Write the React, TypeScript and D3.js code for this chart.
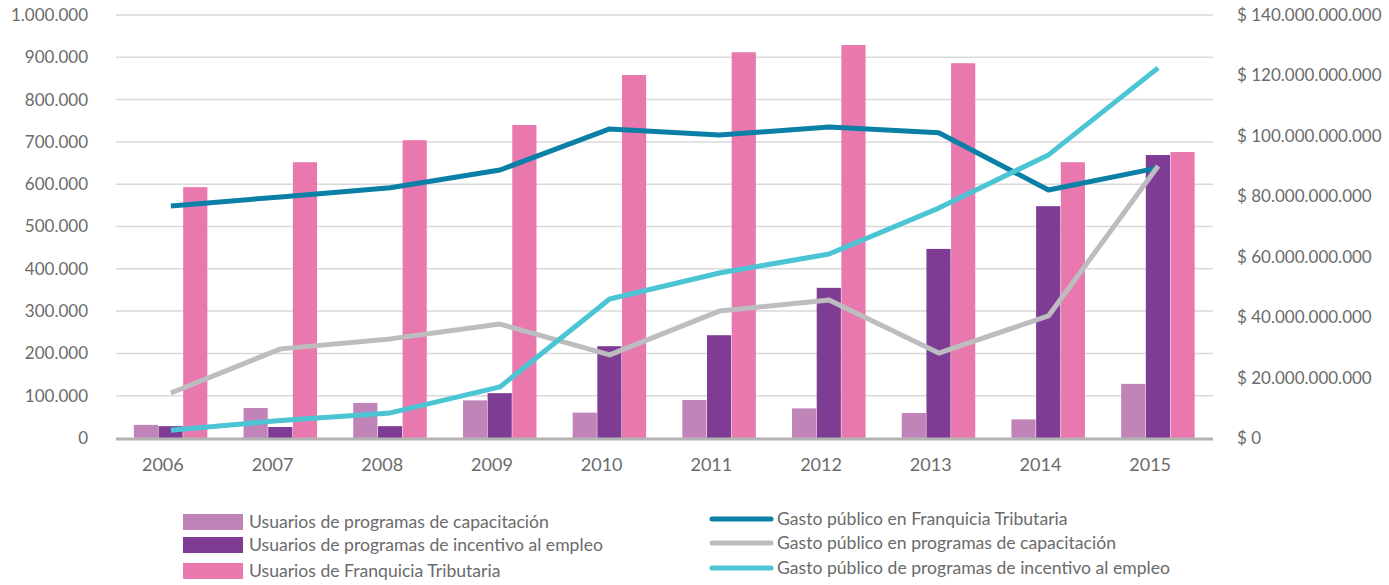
import React from 'react';
import * as d3 from 'd3';

const years = ['2006', '2007', '2008', '2009', '2010', '2011', '2012', '2013', '2014', '2015'];

// usuarios (eje izquierdo)
const usuariosCapacitacion = [31000, 71000, 83000, 89000, 60000, 90000, 70000, 59000, 44000, 128000];
const usuariosIncentivo = [28000, 26000, 28000, 106000, 217000, 243000, 355000, 447000, 548000, 669000];
const usuariosFranquicia = [593000, 652000, 704000, 740000, 858000, 912000, 929000, 886000, 652000, 676000];

// gasto público (eje derecho)
const gastoFranquicia = [76.8e9, 79.8e9, 82.8e9, 88.7e9, 102.3e9, 100.3e9, 102.9e9, 101e9, 82.1e9, 89.4e9];
const gastoCapacitacion = [14.9e9, 29.5e9, 32.8e9, 37.7e9, 27.5e9, 42e9, 45.7e9, 28.1e9, 40.4e9, 90e9];
const gastoIncentivo = [2.6e9, 5.8e9, 8.3e9, 16.9e9, 46e9, 54.6e9, 60.9e9, 76.1e9, 93.7e9, 122.5e9];

const leftTicks = [0, 100000, 200000, 300000, 400000, 500000, 600000, 700000, 800000, 900000, 1000000];
const rightTicks = [0, 20e9, 40e9, 60e9, 80e9, 100e9, 120e9, 140e9];

const barSeries = [
  { name: 'Usuarios de programas de capacitación', color: '#c084b8', values: usuariosCapacitacion },
  { name: 'Usuarios de programas de incentivo al empleo', color: '#7f3c95', values: usuariosIncentivo },
  { name: 'Usuarios de Franquicia Tributaria', color: '#e878ad', values: usuariosFranquicia },
];

const lineSeries = [
  { name: 'Gasto público en Franquicia Tributaria', color: '#0a80a6', values: gastoFranquicia },
  { name: 'Gasto público en programas de capacitación', color: '#bdbdc0', values: gastoCapacitacion },
  { name: 'Gasto público de programas de incentivo al empleo', color: '#4bc4d3', values: gastoIncentivo },
];

const fmt = (v: number) => d3.format(',')(v).replace(/,/g, '.');

const FONT = 'Lato, sans-serif';
const TEXT = '#6b6b6b';

const App: React.FC = () => {
  const width = 1389;
  const height = 585;
  const plotLeft = 116;
  const plotRight = 1213;
  const top = 15;
  const bottom = 438;

  const x0 = d3.scaleBand<string>().domain(years).range([plotLeft, plotRight]);
  const groupW = 74;
  const x1 = d3.scaleBand<number>().domain([0, 1, 2]).range([0, groupW]);
  const groupOffset = (x0.bandwidth() - groupW) / 2;

  const yLeft = d3.scaleLinear().domain([0, 1000000]).range([bottom, top]);
  const yRight = d3.scaleLinear().domain([0, 140e9]).range([bottom, top]);

  const cx = (y: string) => (x0(y) as number) + x0.bandwidth() / 2;

  return (
    <svg width={width} height={height} style={{ display: 'block', position: 'absolute', left: 0, top: 0 }}>
      <rect width={width} height={height} fill="#fff" />
      {/* grid */}
      {leftTicks.filter(t => t > 0).map(t => (
        <line key={t} x1={plotLeft} x2={plotRight} y1={yLeft(t)} y2={yLeft(t)} stroke="#d9d9d9" strokeWidth={1.5} />
      ))}
      {/* left axis labels */}
      {leftTicks.map(t => (
        <text key={t} x={88} y={yLeft(t)} dy="0.35em" textAnchor="end" fontFamily={FONT} fontSize={17} fill={TEXT}>
          {fmt(t)}
        </text>
      ))}
      {/* right axis labels */}
      {rightTicks.map(t => (
        <text key={t} x={1237} y={yRight(t)} dy="0.35em" textAnchor="start" fontFamily={FONT} fontSize={17} fill={TEXT}>
          {'$ ' + fmt(t)}
        </text>
      ))}
      {/* bars */}
      {barSeries.map((s, si) => (
        <g key={s.name}>
          {s.values.map((v, i) => (
            <rect
              key={i}
              x={(x0(years[i]) as number) + groupOffset + (x1(si) as number)}
              y={yLeft(v)}
              width={x1.bandwidth() - 0.5}
              height={bottom - yLeft(v)}
              fill={s.color}
            />
          ))}
        </g>
      ))}
      {/* baseline */}
      <line x1={plotLeft} x2={plotRight} y1={bottom + 1} y2={bottom + 1} stroke="#b3b3b3" strokeWidth={3} />
      {/* lines */}
      {lineSeries.map(s => {
        const path = d3.line<number>()
          .x((_, i) => cx(years[i]))
          .y(d => yRight(d))(s.values);
        return (
          <path key={s.name} d={path || ''} fill="none" stroke={s.color} strokeWidth={5} strokeLinejoin="round" />
        );
      })}
      {/* x labels */}
      {years.map(y => (
        <text key={y} x={cx(y) - 8} y={471} textAnchor="middle" fontFamily={FONT} fontSize={18} fill={TEXT}>
          {y}
        </text>
      ))}
      {/* legend */}
      {barSeries.map((s, i) => {
        const ly = [514, 537, 563][i];
        return (
          <g key={s.name}>
            <rect x={183} y={ly} width={60} height={16} fill={s.color} />
            <text x={249} y={ly + 8} dy="0.35em" fontFamily={FONT} fontSize={17.6} fill={TEXT}>{s.name}</text>
          </g>
        );
      })}
      {lineSeries.map((s, i) => {
        const ly = [519, 543, 568][i];
        return (
          <g key={s.name}>
            <line x1={712} x2={771} y1={ly} y2={ly} stroke={s.color} strokeWidth={5} strokeLinecap="round" />
            <text x={777} y={ly} dy="0.35em" fontFamily={FONT} fontSize={17.6} fill={TEXT}>{s.name}</text>
          </g>
        );
      })}
    </svg>
  );
};

export default App;
